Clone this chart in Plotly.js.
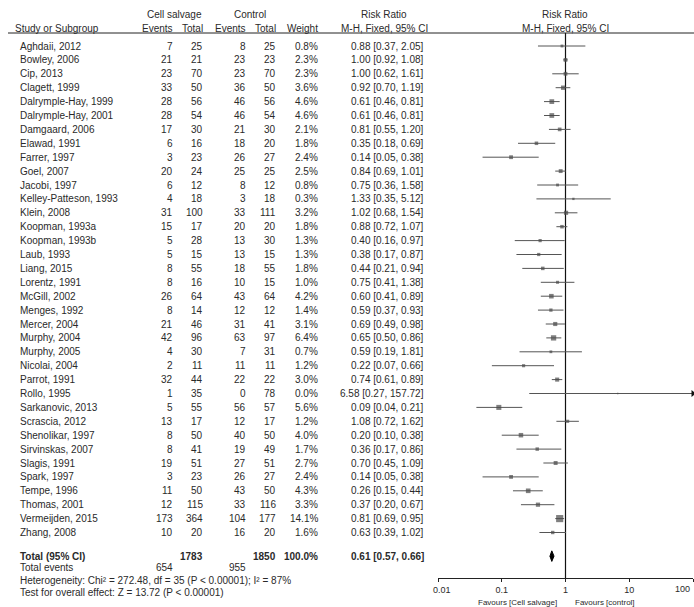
<!DOCTYPE html>
<html>
<head>
<meta charset="utf-8">
<script src="https://cdn.plot.ly/plotly-3.0.1.min.js"></script>
<style>
  html, body { margin: 0; padding: 0; background: #fff; }
  #chart { width: 694px; height: 607px; }
</style>
</head>
<body>
<div id="chart"></div>
<script>
// Study-level data: cell salvage vs control, risk ratio (M-H, fixed, 95% CI)
const studies = ["Aghdaii, 2012","Bowley, 2006","Cip, 2013","Clagett, 1999","Dalrymple-Hay, 1999","Dalrymple-Hay, 2001","Damgaard, 2006","Elawad, 1991","Farrer, 1997","Goel, 2007","Jacobi, 1997","Kelley-Patteson, 1993","Klein, 2008","Koopman, 1993a","Koopman, 1993b","Laub, 1993","Liang, 2015","Lorentz, 1991","McGill, 2002","Menges, 1992","Mercer, 2004","Murphy, 2004","Murphy, 2005","Nicolai, 2004","Parrot, 1991","Rollo, 1995","Sarkanovic, 2013","Scrascia, 2012","Shenolikar, 1997","Sirvinskas, 2007","Slagis, 1991","Spark, 1997","Tempe, 1996","Thomas, 2001","Vermeijden, 2015","Zhang, 2008"];
const ceEvents = [7,21,23,33,28,28,17,6,3,20,6,4,31,15,5,5,8,8,26,8,21,42,4,2,32,1,5,13,8,8,19,3,11,12,173,10];
const ceTotal  = [25,21,70,50,56,54,30,16,23,24,12,18,100,17,28,15,55,16,64,14,46,96,30,11,44,35,55,17,50,41,51,23,50,115,364,20];
const ctEvents = [8,23,23,36,46,46,21,18,26,25,8,3,33,20,13,13,18,10,43,12,31,63,7,11,22,0,56,12,40,19,27,26,43,33,104,16];
const ctTotal  = [25,23,70,50,56,54,30,20,27,25,12,18,111,20,30,15,55,15,64,12,41,97,31,11,22,78,57,17,50,49,51,27,50,116,177,20];
const weights  = [0.8,2.3,2.3,3.6,4.6,4.6,2.1,1.8,2.4,2.5,0.8,0.3,3.2,1.8,1.3,1.3,1.8,1.0,4.2,1.4,3.1,6.4,0.7,1.2,3.0,0.0,5.6,1.2,4.0,1.7,2.7,2.4,4.3,3.3,14.1,1.6];
const rr       = [0.88,1.00,1.00,0.92,0.61,0.61,0.81,0.35,0.14,0.84,0.75,1.33,1.02,0.88,0.40,0.38,0.44,0.75,0.60,0.59,0.69,0.65,0.59,0.22,0.74,6.58,0.09,1.08,0.20,0.36,0.70,0.14,0.26,0.37,0.81,0.63];
const rrLow    = [0.37,0.92,0.62,0.70,0.46,0.46,0.55,0.18,0.05,0.69,0.36,0.35,0.68,0.72,0.16,0.17,0.21,0.41,0.41,0.37,0.49,0.50,0.19,0.07,0.61,0.27,0.04,0.72,0.10,0.17,0.45,0.05,0.15,0.20,0.69,0.39];
const rrHigh   = [2.05,1.08,1.61,1.19,0.81,0.81,1.20,0.69,0.38,1.01,1.58,5.12,1.54,1.07,0.97,0.87,0.94,1.38,0.89,0.93,0.98,0.86,1.81,0.66,0.89,157.72,0.21,1.62,0.38,0.86,1.09,0.38,0.44,0.67,0.95,1.02];

// Pooled result
const totalCeN = 1783, totalCtN = 1850, totalWeight = 100.0;
const totalCeEvents = 654, totalCtEvents = 955;
const totalRR = 0.61, totalLow = 0.57, totalHigh = 0.66;
const heterogeneityText = "Heterogeneity: Chi² = 272.48, df = 35 (P < 0.00001); I² = 87%";
const overallText = "Test for overall effect: Z = 13.72 (P < 0.00001)";

// Axis ticks
const tickValues = [0.01, 0.1, 1, 10, 100];
const tickLabels = ["0.01", "0.1", "1", "10", "100"];

// ---- layout geometry (pixels) ----
const W = 694, H = 607;
const ROW0 = 46, STEP = 13.9;          // first study row and row pitch
const HEAD1 = 14, HEAD2 = 28, RULE = 33;
const AXIS_PX = 578;
const py = p => (p - ROW0) / STEP;     // pixel -> row units
const px = p => p / W;                 // pixel -> paper x

const n = studies.length;
const rowsY = studies.map((_, i) => i);
const totalRow = n + 0.7;
const eventsRow = totalRow + 0.85;
const hetRow = eventsRow + 0.9;
const testRow = hetRow + 0.85;

const FONT = "Liberation Sans, Arial, sans-serif";
const TXT = "#2a2a2a";
const fs = 10;

const ann = [];
function txt(x, y, text, anchor, opts = {}) {
  ann.push(Object.assign({
    xref: "paper", yref: "y", x: px(x), y: y, text: text,
    xanchor: anchor, yanchor: "middle", showarrow: false,
    font: { family: FONT, size: fs, color: TXT }
  }, opts));
}

const COL = { name: 18, ceE: 175, ceN: 205, ctE: 248, ctN: 278, w: 320, rr: 426 };

// header
txt(174, py(HEAD1), "Cell salvage", "center");
txt(250, py(HEAD1), "Control", "center");
txt(384, py(HEAD1), "Risk Ratio", "center");
txt(565, py(HEAD1), "Risk Ratio", "center");
txt(13, py(HEAD2), "Study or Subgroup", "left");
txt(COL.ceE, py(HEAD2), "Events", "right");
txt(COL.ceN, py(HEAD2), "Total", "right");
txt(COL.ctE, py(HEAD2), "Events", "right");
txt(COL.ctN, py(HEAD2), "Total", "right");
txt(COL.w, py(HEAD2), "Weight", "right");
txt(384, py(HEAD2), "M-H, Fixed, 95% CI", "center");
txt(565, py(HEAD2), "M-H, Fixed, 95% CI", "center");

const f2 = v => v.toFixed(2);
studies.forEach((s, i) => {
  txt(COL.name, i, s, "left");
  txt(COL.ceE, i, String(ceEvents[i]), "right");
  txt(COL.ceN, i, String(ceTotal[i]), "right");
  txt(COL.ctE, i, String(ctEvents[i]), "right");
  txt(COL.ctN, i, String(ctTotal[i]), "right");
  txt(COL.w, i, weights[i].toFixed(1) + "%", "right");
  txt(COL.rr, i, `${f2(rr[i])} [${f2(rrLow[i])}, ${f2(rrHigh[i])}]`, "right");
});

// totals
txt(COL.name, totalRow, "<b>Total (95% CI)</b>", "left");
txt(COL.ceN, totalRow, `<b>${totalCeN}</b>`, "right");
txt(COL.ctN, totalRow, `<b>${totalCtN}</b>`, "right");
txt(COL.w, totalRow, `<b>${totalWeight.toFixed(1)}%</b>`, "right");
txt(COL.rr, totalRow, `<b>${f2(totalRR)} [${f2(totalLow)}, ${f2(totalHigh)}]</b>`, "right");
txt(COL.name, eventsRow, "Total events", "left");
txt(COL.ceE, eventsRow, String(totalCeEvents), "right");
txt(COL.ctE, eventsRow, String(totalCtEvents), "right");
txt(COL.name, hetRow, heterogeneityText, "left");
txt(COL.name, testRow, overallText, "left");

// favours labels under the axis
const small = { family: FONT, size: 8, color: TXT };
txt(559, py(602), "Favours [Cell salvage]", "right", { font: small });
txt(573, py(602), "Favours [control]", "left", { font: small });

// end tick labels are tucked inside the axis span so they stay within the figure
const tickFont = { family: FONT, size: 9, color: TXT };
const axisY = 1 - AXIS_PX / H;
const lastTick = tickValues.length - 1;
ann.push({
  xref: "x", yref: "paper", x: Math.log10(tickValues[lastTick]), y: axisY,
  text: tickLabels[lastTick], xanchor: "right", yanchor: "top", yshift: -4, xshift: -1,
  showarrow: false, font: tickFont
});
const axisTickText = tickLabels.map((t, i) => i === lastTick ? "" : (i === 0 ? "\u00a0\u00a0\u00a0" + t : t));

// ---- traces ----
const ciX = [], ciY = [];
studies.forEach((_, i) => { ciX.push(rrLow[i], rrHigh[i], null); ciY.push(i, i, null); });

const yTop = py(RULE), yBottom = py(AXIS_PX);
const arrowsIdx = rrHigh.map((v, i) => v > 100 ? i : -1).filter(i => i >= 0);

const traces = [
  { // line of no effect
    type: "scatter", mode: "lines", x: [1, 1], y: [yTop, yBottom],
    line: { color: "#111", width: 1.2 }, hoverinfo: "skip", cliponaxis: false
  },
  { // confidence intervals
    type: "scatter", mode: "lines", x: ciX, y: ciY,
    line: { color: "#555", width: 1 }, hoverinfo: "skip", connectgaps: false
  },
  { // point estimates sized by weight
    type: "scatter", mode: "markers", x: rr, y: rowsY,
    marker: { symbol: "square", color: "#4a4a4a",
      size: weights.map(w => 1.5 + 1.5 * Math.sqrt(w)), line: { width: 0 } },
    hoverinfo: "skip"
  },
  { // arrows where the interval runs past the axis
    type: "scatter", mode: "markers", x: arrowsIdx.map(() => 100), y: arrowsIdx,
    marker: { symbol: "triangle-right", color: "#111", size: 6 },
    cliponaxis: false, hoverinfo: "skip"
  },
  { // pooled diamond
    type: "scatter", mode: "lines",
    x: [totalLow, totalRR, totalHigh, totalRR, totalLow],
    y: [totalRow, totalRow - 0.38, totalRow, totalRow + 0.38, totalRow],
    fill: "toself", fillcolor: "#000", line: { color: "#000", width: 1 }, hoverinfo: "skip"
  }
];

const layout = {
  width: W, height: H,
  margin: { l: 0, r: 0, t: 0, b: 0, pad: 0 },
  paper_bgcolor: "#fff", plot_bgcolor: "rgba(0,0,0,0)",
  showlegend: false,
  font: { family: FONT, size: fs, color: TXT },
  xaxis: {
    type: "log", range: [-2, 2], domain: [438 / W, 693 / W],
    anchor: "free", position: axisY,
    showline: true, linecolor: "#222", linewidth: 1,
    ticks: "outside", ticklen: 3, tickcolor: "#222",
    tickvals: tickValues, ticktext: axisTickText,
    tickfont: tickFont,
    showgrid: false, zeroline: false, fixedrange: true
  },
  yaxis: {
    range: [py(H), py(0)], domain: [0, 1],
    visible: false, showgrid: false, zeroline: false, fixedrange: true
  },
  shapes: [
    { type: "line", xref: "paper", yref: "y", x0: px(8), x1: 1, y0: py(RULE), y1: py(RULE),
      line: { color: "#222", width: 1 } }
  ],
  annotations: ann
};

Plotly.newPlot("chart", traces, layout, { staticPlot: true, displayModeBar: false });
</script>
</body>
</html>
